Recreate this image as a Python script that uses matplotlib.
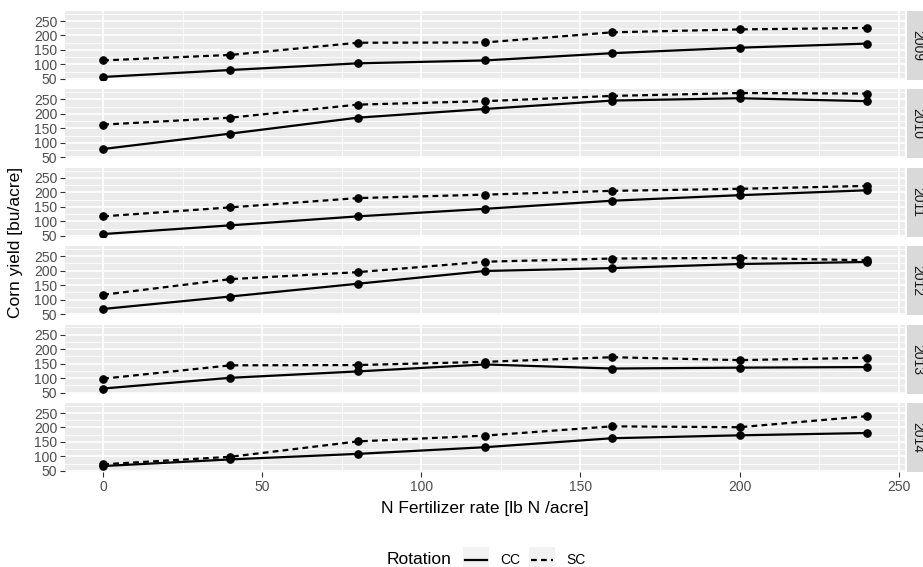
import matplotlib
matplotlib.use("Agg")
import matplotlib.pyplot as plt
from matplotlib.patches import Rectangle
from matplotlib.lines import Line2D

# N fertilizer rates (lb N / acre)
rates = [0, 40, 80, 120, 160, 200, 240]
years = ["2009", "2010", "2011", "2012", "2013", "2014"]

# corn yield [bu/acre], CC = corn-corn, SC = soy-corn
cc_2009 = [57, 81, 104, 114, 139, 158, 172]
sc_2009 = [114, 133, 175, 176, 211, 221, 226]
cc_2010 = [79, 132, 187, 217, 246, 254, 244]
sc_2010 = [163, 187, 232, 244, 262, 272, 270]
cc_2011 = [56, 86, 117, 143, 171, 190, 207]
sc_2011 = [117, 148, 180, 192, 205, 212, 222]
cc_2012 = [68, 111, 155, 199, 209, 223, 230]
sc_2012 = [117, 171, 195, 231, 242, 244, 236]
cc_2013 = [64, 101, 123, 147, 133, 136, 138]
sc_2013 = [98, 144, 145, 156, 172, 162, 170]
cc_2014 = [67, 90, 109, 132, 163, 173, 181]
sc_2014 = [73, 99, 152, 172, 204, 201, 239]

cc_all = [cc_2009, cc_2010, cc_2011, cc_2012, cc_2013, cc_2014]
sc_all = [sc_2009, sc_2010, sc_2011, sc_2012, sc_2013, sc_2014]

y_ticks = [50, 100, 150, 200, 250]
x_ticks = [0, 50, 100, 150, 200, 250]

plt.rcParams["font.family"] = ["Liberation Sans", "DejaVu Sans"]

W, H = 923, 567
fig = plt.figure(figsize=(W / 100, H / 100), dpi=100)


def px_axes(left, top, width, height):
    return fig.add_axes([left / W, 1 - (top + height) / H, width / W, height / H])


panel_left, panel_right = 65, 905
panel_h, gap = 69, 9.4
line_kw = dict(color="black", lw=1.6, marker="o", markersize=5.2)
dash = (2.6, 1.9)

for i, year in enumerate(years):
    top = 11 + i * (panel_h + gap)
    ax = px_axes(panel_left, top, panel_right - panel_left, panel_h)
    ax.set_facecolor("#EBEBEB")
    for s in ax.spines.values():
        s.set_visible(False)
    ax.set_xlim(-12, 252)
    ax.set_ylim(46.5, 284.5)
    ax.set_yticks(y_ticks)
    ax.set_yticks([75, 125, 175, 225, 275], minor=True)
    ax.set_xticks(x_ticks)
    ax.set_xticks([25, 75, 125, 175, 225], minor=True)
    ax.grid(which="major", color="white", lw=1.2)
    ax.grid(which="minor", color="white", lw=0.6)
    ax.set_axisbelow(True)
    ax.tick_params(which="major", length=3.5, width=0.8, color="#333333",
                   labelcolor="#4D4D4D", labelsize=10, pad=2)
    ax.tick_params(which="minor", length=0)
    if i < len(years) - 1:
        ax.tick_params(axis="x", which="major", length=0, labelbottom=False)
    ax.set_yticklabels([str(v) for v in y_ticks])

    ax.plot(rates, cc_all[i], **line_kw)
    (sc_line,) = ax.plot(rates, sc_all[i], ls="--", **line_kw)
    sc_line.set_dashes(dash)

    # facet strip on the right
    sax = px_axes(907, top, 22, panel_h)
    sax.set_facecolor("#D9D9D9")
    sax.set_xticks([])
    sax.set_yticks([])
    for s in sax.spines.values():
        s.set_visible(False)
    sax.text(0.45, 0.5, year, rotation=-90, ha="center", va="center",
             fontsize=10, color="#1A1A1A", transform=sax.transAxes)

fig.text(485 / W, 1 - 509 / H, "N Fertilizer rate [lb N /acre]",
         ha="center", va="center", fontsize=12.5)
fig.text(16 / W, 1 - 242 / H, "Corn yield [bu/acre]", rotation=90,
         ha="center", va="center", fontsize=12.5)

# legend at bottom
lax = fig.add_axes([0, 0, 1, 1], facecolor="none")
lax.set_xlim(0, W)
lax.set_ylim(H, 0)
lax.axis("off")
lax.text(387, 560, "Rotation", ha="left", va="center", fontsize=12.5)
for x0, label, is_dashed in [(463, "CC", False), (529, "SC", True)]:
    lax.add_patch(Rectangle((x0, 547), 26, 26, facecolor="#F2F2F2", edgecolor="none"))
    key = Line2D([x0 + 2, x0 + 24], [560, 560], color="black", lw=1.6)
    if is_dashed:
        key.set_dashes(dash)
    lax.add_line(key)
    lax.text(x0 + 37, 560, label, ha="left", va="center", fontsize=10)

fig.savefig("out.png", dpi=100)
